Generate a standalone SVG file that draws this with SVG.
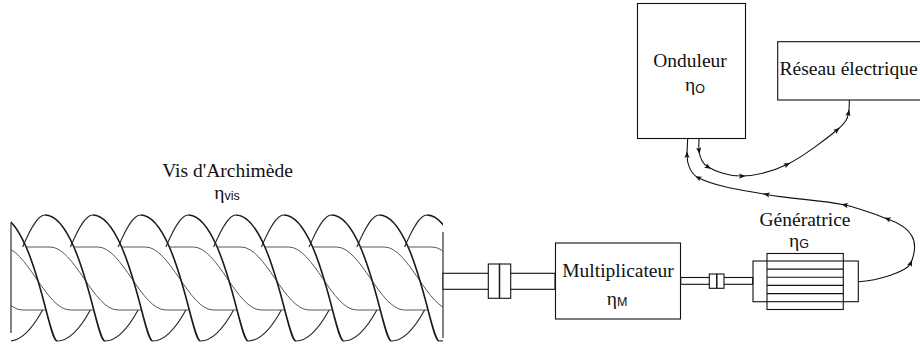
<svg xmlns="http://www.w3.org/2000/svg" width="920" height="347" viewBox="0 0 920 347">
<style>
  .box{fill:#fff;stroke:#111;stroke-width:1.1}
  .ln{fill:none;stroke:#111;stroke-width:1.1}
  .front{fill:none;stroke:#1a1a1a;stroke-width:1.6}
  .back{fill:none;stroke:#2a2a2a;stroke-width:1.15}
  .core{fill:none;stroke:#3a3a3a;stroke-width:0.85}
  .lbl{font-family:"Liberation Serif","Times New Roman",serif;font-size:19.5px;fill:#111}
  .sub{font-family:"Liberation Sans",Arial,sans-serif;font-size:12.5px}
  .wire{fill:none;stroke:#111;stroke-width:1.1;marker-mid:url(#arr)}
</style>
<defs>
  <marker id="arr" viewBox="-5 -5 10 10" refX="0" refY="0" markerWidth="10" markerHeight="10" markerUnits="userSpaceOnUse" orient="auto">
    <path d="M3.5,0 L-3,-2.6 L-1.5,0 L-3,2.6 Z" fill="#111"/>
  </marker>
  <clipPath id="screwClip"><rect x="11" y="200" width="432" height="147"/></clipPath>
  <g id="tile">
    <path class="front" d="M0,215 C10.16,215 20.25,227.46 28.66,246.5 C37.07,265.54 43.74,290.46 48.66,309.5 C53.58,328.54 56.82,341 60,341"/>
    <path class="back" d="M60,341 C71.42,341 82.79,328.79 93.1,310 M120.9,247 C129.1,227.71 136.21,215 143.25,215"/>
    <path class="core" d="M28.66,247 H52.75 C77.25,247 96.25,310 120.75,310 H144.3"/>
  </g>
</defs>

<g id="vis">
  <g clip-path="url(#screwClip)">
    <use href="#tile" x="-98.25"/>
    <use href="#tile" x="-50.5"/>
    <use href="#tile" x="-2.75"/>
    <use href="#tile" x="45"/>
    <use href="#tile" x="92.75"/>
    <use href="#tile" x="140.5"/>
    <use href="#tile" x="188.25"/>
    <use href="#tile" x="236"/>
    <use href="#tile" x="283.75"/>
    <use href="#tile" x="331.5"/>
    <use href="#tile" x="379.25"/>
    <use href="#tile" x="427"/>
  </g>
  <line class="back" x1="11" y1="222" x2="11" y2="333"/>
  <line class="back" x1="443" y1="232" x2="443" y2="338"/>
  <text class="lbl" x="227.5" y="177" text-anchor="middle">Vis d'Archimède</text>
  <text class="lbl" x="227" y="198.5" text-anchor="middle">η<tspan class="sub" dy="1.5">vis</tspan></text>
</g>

<g id="connectors">
  <g id="arbre-lent">
    <rect class="box" x="443" y="273.3" width="112" height="16"/>
    <rect class="box" x="488.3" y="264" width="11" height="34.3"/>
    <rect class="box" x="499.7" y="264" width="11" height="34.3"/>
  </g>
  <g id="arbre-rapide">
    <rect class="box" x="680.7" y="277.5" width="72" height="6.8"/>
    <rect class="box" x="709.3" y="274" width="7.4" height="14.3"/>
    <rect class="box" x="717" y="274" width="7" height="14.3"/>
  </g>
  <path class="wire" d="M699,138.5 C699,142.5 698.5,145.8 699,150.5 C699.5,155.2 700.8,162.75 708,167 C715.2,171.25 728.8,176.4 742,176 C755.2,175.6 771.2,172.2 787,164.5 C802.8,156.8 826.75,138.6 837,130 C847.25,121.4 847.5,117.7 848.5,113 C849.5,108.3 849.3,104.3 849.3,100"/>
  <path class="wire" d="M858.3,281.7 C878,280.5 907.1,271.6 910.7,263.3 C921.1,239.4 910,227 887.7,219 C874.5,214.2 858.7,207.8 845,205 C819.5,199.8 792.3,199.3 766.7,194.5 C745.1,190.5 718,187.4 698.3,177.7 C690.2,173.7 687,163 687,155 C687,149 687.5,144 687.7,138.5"/>
</g>

<g id="multiplicateur">
  <rect class="box" x="555.5" y="243" width="125" height="76"/>
  <text class="lbl" x="618" y="277.3" text-anchor="middle">Multiplicateur</text>
  <text class="lbl" x="617" y="304.5" text-anchor="middle">η<tspan class="sub" dy="1.5">M</tspan></text>
</g>

<g id="generatrice">
  <rect class="ln" x="753" y="261" width="105.3" height="40.7"/>
  <rect class="ln" x="767" y="253.5" width="76.3" height="56"/>
  <path class="ln" d="M767,269.1 H843.3 M767,277.3 H843.3 M767,285.4 H843.3 M767,293.6 H843.3"/>
  <text class="lbl" x="805" y="226" text-anchor="middle">Génératrice</text>
  <text class="lbl" x="799" y="246.5" text-anchor="middle">η<tspan class="sub" dy="1.5">G</tspan></text>
</g>

<g id="onduleur">
  <rect class="ln" x="637.5" y="3.5" width="108" height="135"/>
  <text class="lbl" x="690" y="66.7" text-anchor="middle">Onduleur</text>
  <text class="lbl" x="695" y="91" text-anchor="middle">η<tspan class="sub" dy="1.5">O</tspan></text>
</g>

<g id="reseau">
  <rect class="box" x="777.7" y="41.7" width="150" height="58.3"/>
  <text class="lbl" x="779.5" y="75">Réseau électrique</text>
</g>
</svg>
